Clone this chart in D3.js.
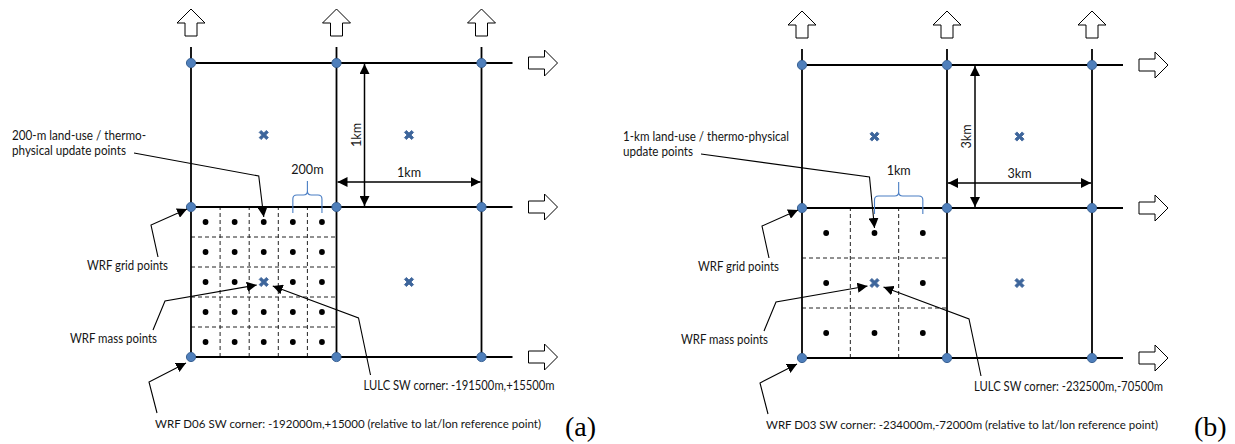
<!DOCTYPE html>
<html>
<head>
<meta charset="utf-8">
<script src="https://cdn.jsdelivr.net/npm/d3@7"></script>
<style>
  body { margin: 0; background: #fff; }
  .lbl { font-family: Lato, "Open Sans", sans-serif; font-size: 12.6px; fill: #151515; }
  .lbl.long { font-size: 12px; }
  .tag { font-family: "Liberation Serif", "DejaVu Serif", serif; font-size: 28px; fill: #000; }
</style>
</head>
<body>
<svg id="fig" width="1235" height="444"></svg>
<script>
// ---- content of the two grid sketches ----
const panelTags = ["(a)", "(b)"];
const cellSizeLabels = ["1km", "3km"];
const subCellLabels = ["200m", "1km"];
const subdivisions = [5, 3];
const updateLabels = [
  ["200-m land-use / thermo-", "physical update points"],
  ["1-km land-use / thermo-physical", "update points"]
];
const lulcLabels = [
  "LULC SW corner: -191500m,+15500m",
  "LULC SW corner: -232500m,-70500m"
];
const domainLabels = [
  "WRF D06 SW corner: -192000m,+15000 (relative to lat/lon reference point)",
  "WRF D03 SW corner: -234000m,-72000m (relative to lat/lon reference point)"
];
const gridPointLabel = "WRF grid points";
const massPointLabel = "WRF mass points";
const gridNodes = [0, 1, 2];          // grid node index along each axis
const massCells = [[0, 0], [1, 0], [0, 1], [1, 1]]; // cells holding a mass point

// ---- layout ----
const layout = [
  { xr: [191, 336.5, 481.5], yr: [357, 207, 63], tagX: 565 },
  { xr: [802, 947, 1092], yr: [358, 208, 65], tagX: 1194 }
];
const textWidths = {
  "200-m land-use / thermo-": 134, "physical update points": 114,
  "1-km land-use / thermo-physical": 166, "update points": 70,
  "WRF grid points": 81, "WRF mass points": 87,
  "LULC SW corner: -191500m,+15500m": 191, "LULC SW corner: -232500m,-70500m": 189,
  [domainLabels[0]]: 386, [domainLabels[1]]: 392
};

const svg = d3.select("#fig");
const defs = svg.append("defs");
function marker(id, len, half) {
  defs.append("marker").attr("id", id)
    .attr("viewBox", `0 ${-half} ${len} ${half * 2}`)
    .attr("refX", len).attr("refY", 0)
    .attr("markerUnits", "userSpaceOnUse")
    .attr("markerWidth", len).attr("markerHeight", half * 2)
    .attr("orient", "auto-start-reverse")
    .append("path").attr("d", `M0,${-half}L${len},0L0,${half}Z`).attr("fill", "#000");
}
marker("lead", 10, 5);
marker("dim", 10, 5);

function label(g, str, x, y, anchor) {
  const t = g.append("text").attr("class", "lbl").attr("x", x).attr("y", y).text(str);
  if (anchor) t.attr("text-anchor", anchor);
  const w = textWidths[str];
  if (w) t.attr("textLength", w).attr("lengthAdjust", "spacingAndGlyphs");
  return t;
}
const line = d3.line();

// thick "x" used for mass points
const massMark = "M-4.6,-2.6L-2.6,-4.6L0,-2L2.6,-4.6L4.6,-2.6L2,0L4.6,2.6L2.6,4.6L0,2L-2.6,4.6L-4.6,2.6L-2,0Z";

layout.forEach((L, p) => {
  const x = d3.scaleLinear().domain(gridNodes).range(L.xr);
  const y = d3.scaleLinear().domain(gridNodes).range(L.yr);
  const n = subdivisions[p];
  const g = svg.append("g");
  const x0 = x(0), x1 = x(1), x2 = x(2), y0 = y(0), y1 = y(1), y2 = y(2);

  // dashed sub-grid inside the south-west cell
  const sub = d3.range(1, n);
  g.selectAll(".dv").data(sub).join("line")
    .attr("x1", k => x(k / n)).attr("x2", k => x(k / n))
    .attr("y1", y0).attr("y2", y1)
    .attr("stroke", "#222").attr("stroke-width", 1).attr("stroke-dasharray", "4,3");
  g.selectAll(".dh").data(sub).join("line")
    .attr("y1", k => y(k / n)).attr("y2", k => y(k / n))
    .attr("x1", x0).attr("x2", x1)
    .attr("stroke", "#222").attr("stroke-width", 1).attr("stroke-dasharray", "4,3");

  // update points at sub-cell centres (the centre one is the mass point)
  const pts = [];
  d3.range(n).forEach(i => d3.range(n).forEach(j => {
    const u = (i + 0.5) / n, v = (j + 0.5) / n;
    if (!(Math.abs(u - 0.5) < 1e-9 && Math.abs(v - 0.5) < 1e-9)) pts.push([u, v]);
  }));
  g.selectAll(".up").data(pts).join("circle")
    .attr("cx", d => x(d[0])).attr("cy", d => y(d[1])).attr("r", 2.9).attr("fill", "#000");

  // WRF grid lines
  g.selectAll(".gh").data(gridNodes).join("line")
    .attr("x1", x0).attr("x2", x2 + 31).attr("y1", d => y(d)).attr("y2", d => y(d))
    .attr("stroke", "#000").attr("stroke-width", 1.8);
  g.selectAll(".gv").data(gridNodes).join("line")
    .attr("y1", y0).attr("y2", y2 - 16).attr("x1", d => x(d)).attr("x2", d => x(d))
    .attr("stroke", "#000").attr("stroke-width", 1.8);

  // outflow block arrows
  g.selectAll(".ua").data(gridNodes).join("path")
    .attr("transform", d => `translate(${x(d)},${y2 - 27})`)
    .attr("d", "M-6,0V-13H-14L0,-27L14,-13H6V0Z")
    .attr("fill", "#fff").attr("stroke", "#000").attr("stroke-width", 1);
  g.selectAll(".ra").data(gridNodes).join("path")
    .attr("transform", d => `translate(${x2 + 47},${y(d)})`)
    .attr("d", "M0,-6H16V-13L29,0L16,13V6H0Z")
    .attr("fill", "#fff").attr("stroke", "#000").attr("stroke-width", 1);

  // grid points
  const nodes = gridNodes.flatMap(i => gridNodes.map(j => [i, j]));
  g.selectAll(".gp").data(nodes).join("circle")
    .attr("cx", d => x(d[0])).attr("cy", d => y(d[1])).attr("r", 4.6)
    .attr("fill", "#4f7fbb").attr("stroke", "#3a6294").attr("stroke-width", 1);

  // mass points
  g.selectAll(".mp").data(massCells).join("path")
    .attr("transform", d => `translate(${x(d[0] + 0.5)},${y(d[1] + 0.5)})`)
    .attr("d", massMark).attr("fill", "#3d659b")
    .attr("stroke", "#3d659b").attr("stroke-width", 0.8).attr("stroke-linejoin", "round");

  // cell-size dimension arrows
  const vx = x1 + 28, hy = y1 - 25;
  g.append("line").attr("x1", vx).attr("x2", vx).attr("y1", y2 + 1).attr("y2", y1 - 1)
    .attr("stroke", "#000").attr("stroke-width", 1.5)
    .attr("marker-start", "url(#dim)").attr("marker-end", "url(#dim)");
  g.append("line").attr("x1", x1 + 1).attr("x2", x2 - 1).attr("y1", hy).attr("y2", hy)
    .attr("stroke", "#000").attr("stroke-width", 1.5)
    .attr("marker-start", "url(#dim)").attr("marker-end", "url(#dim)");
  label(g, cellSizeLabels[p], x(1.5), y1 - 30, "middle");
  label(g, cellSizeLabels[p], 0, 0, "middle")
    .attr("x", null).attr("y", null).attr("dy", "0.35em")
    .attr("transform", `translate(${x1 + 20},${y(1.5)}) rotate(-90)`);

  // brace marking one sub-cell spacing
  const topRow = (n - 0.5) / n;
  const bx1 = x((n - 1.5) / n), bx2 = x(topRow), bm = (bx1 + bx2) / 2;
  const yb = y1 + 6, yh = y1 - 12, yt = y1 - 26, r = 4;
  g.append("path")
    .attr("d", `M${bx1},${yb}V${yh + r}Q${bx1},${yh} ${bx1 + r},${yh}H${bm - r}Q${bm},${yh} ${bm},${yh - r}V${yt}` +
               `M${bm},${yh - r}Q${bm},${yh} ${bm + r},${yh}H${bx2 - r}Q${bx2},${yh} ${bx2},${yh + r}V${yb}`)
    .attr("fill", "none").attr("stroke", "#4a7ec4").attr("stroke-width", 1.1);
  label(g, subCellLabels[p], bm, y1 - 33, "middle");

  // annotation leaders
  function leader(pts) {
    g.append("path").attr("d", line(pts)).attr("fill", "none")
      .attr("stroke", "#000").attr("stroke-width", 1.1).attr("marker-end", "url(#lead)");
  }
  const tx = x0 - 179;
  label(g, updateLabels[p][0], tx, y1 - 67);
  label(g, updateLabels[p][1], tx, y1 - 52);
  const tipX = x(0.5), tipY = y(topRow) - 5;
  leader([[tx + textWidths[updateLabels[p][1]] + 8, y1 - 54], [tipX - 5, y1 - 31], [tipX, tipY]]);

  label(g, gridPointLabel, x0 - 104, y1 + 63);
  leader([[x0 - 33, y1 + 50], [x0 - 40, y1 + 18], [x0 - 4, y1 + 2]]);

  label(g, massPointLabel, x0 - 121, y0 - 14);
  leader([[x0 - 38, y0 - 27], [x0 - 26, y0 - 56], [x(0.5) - 7, y(0.5) + 3]]);

  label(g, lulcLabels[p], x1 + 27, y0 + 33);
  leader([[x1 + 34, y0 + 18], [x1 + 22, y0 - 39], [x(0.5) + 9, y(0.5) + 4]]);

  label(g, domainLabels[p], x0 - 36, y0 + 71).classed("long", true);
  leader([[x0 - 34, y0 + 56], [x0 - 42, y0 + 25], [x0 - 5, y0 + 6]]);

  g.append("text").attr("class", "tag").attr("x", L.tagX).attr("y", 436).text(panelTags[p]);
});
</script>
</body>
</html>
